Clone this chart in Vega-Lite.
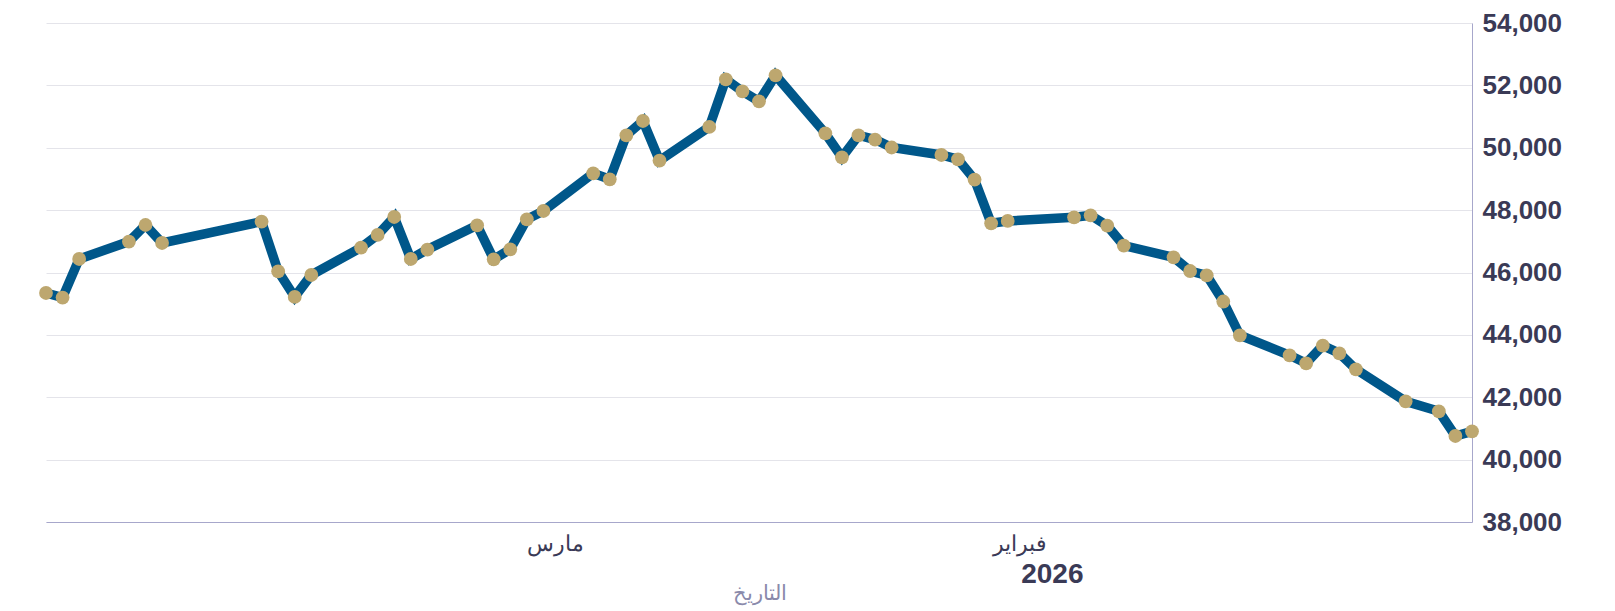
{
  "$schema": "https://vega.github.io/schema/vega-lite/v6.json",
  "width": 1426,
  "height": 499,
  "autosize": {"type": "none"},
  "padding": {"left": 46, "top": 23, "right": 143, "bottom": 89},
  "background": "white",
  "config": {
    "view": {"stroke": null},
    "font": "Liberation Sans"
  },
  "data": {
    "values": [
      {"date": "2026-01-04", "value": 40908},
      {"date": "2026-01-05", "value": 40758},
      {"date": "2026-01-06", "value": 41550},
      {"date": "2026-01-08", "value": 41870},
      {"date": "2026-01-11", "value": 42896},
      {"date": "2026-01-12", "value": 43409},
      {"date": "2026-01-13", "value": 43656},
      {"date": "2026-01-14", "value": 43089},
      {"date": "2026-01-15", "value": 43345},
      {"date": "2026-01-18", "value": 43987},
      {"date": "2026-01-19", "value": 45070},
      {"date": "2026-01-20", "value": 45910},
      {"date": "2026-01-21", "value": 46048},
      {"date": "2026-01-22", "value": 46488},
      {"date": "2026-01-25", "value": 46863},
      {"date": "2026-01-26", "value": 47504},
      {"date": "2026-01-27", "value": 47834},
      {"date": "2026-01-28", "value": 47770},
      {"date": "2026-02-01", "value": 47652},
      {"date": "2026-02-02", "value": 47578},
      {"date": "2026-02-03", "value": 48979},
      {"date": "2026-02-04", "value": 49630},
      {"date": "2026-02-05", "value": 49768},
      {"date": "2026-02-08", "value": 50008},
      {"date": "2026-02-09", "value": 50262},
      {"date": "2026-02-10", "value": 50400},
      {"date": "2026-02-11", "value": 49694},
      {"date": "2026-02-12", "value": 50464},
      {"date": "2026-02-15", "value": 52323},
      {"date": "2026-02-16", "value": 51490},
      {"date": "2026-02-17", "value": 51810},
      {"date": "2026-02-18", "value": 52195},
      {"date": "2026-02-19", "value": 50666},
      {"date": "2026-02-22", "value": 49588},
      {"date": "2026-02-23", "value": 50858},
      {"date": "2026-02-24", "value": 50400},
      {"date": "2026-02-25", "value": 48989},
      {"date": "2026-02-26", "value": 49181},
      {"date": "2026-03-01", "value": 47972},
      {"date": "2026-03-02", "value": 47706},
      {"date": "2026-03-03", "value": 46744},
      {"date": "2026-03-04", "value": 46423},
      {"date": "2026-03-05", "value": 47514},
      {"date": "2026-03-08", "value": 46735},
      {"date": "2026-03-09", "value": 46433},
      {"date": "2026-03-10", "value": 47780},
      {"date": "2026-03-11", "value": 47203},
      {"date": "2026-03-12", "value": 46799},
      {"date": "2026-03-15", "value": 45920},
      {"date": "2026-03-16", "value": 45215},
      {"date": "2026-03-17", "value": 46039},
      {"date": "2026-03-18", "value": 47632},
      {"date": "2026-03-24", "value": 46946},
      {"date": "2026-03-25", "value": 47523},
      {"date": "2026-03-26", "value": 46991},
      {"date": "2026-03-29", "value": 46433},
      {"date": "2026-03-30", "value": 45195},
      {"date": "2026-03-31", "value": 45343}
    ]
  },
  "encoding": {
    "y": {
      "field": "value",
      "type": "quantitative",
      "scale": {"domain": [38000, 54000], "nice": false, "zero": false},
      "axis": {
        "orient": "right",
        "title": null,
        "values": [38000, 40000, 42000, 44000, 46000, 48000, 50000, 52000, 54000],
        "format": ",.0f",
        "ticks": false,
        "domain": true,
        "domainColor": "#a7a7cb",
        "domainWidth": 1,
        "grid": true,
        "gridColor": "#e4e4ea",
        "gridWidth": 1,
        "labelPadding": 10,
        "labelFontSize": 26,
        "labelFontWeight": "bold",
        "labelColor": "#3a3a56",
        "labelFont": "Liberation Sans"
      }
    }
  },
  "layer": [
    {
      "mark": {"type": "line", "color": "#00578a", "strokeWidth": 9.5, "strokeJoin": "miter"},
      "encoding": {
        "x": {
          "field": "date",
          "type": "temporal",
          "scale": {"reverse": true},
          "axis": {
            "orient": "bottom",
            "title": "التاريخ",
            "tickCount": "month",
            "labelExpr": "month(datum.value) == 1 ? 'فبراير' : month(datum.value) == 2 ? 'مارس' : ''",
            "labelOffset": 12,
            "labelFlush": false,
            "labelOverlap": false,
            "ticks": false,
            "grid": false,
            "domainColor": "#a7a7cb",
            "domainWidth": 1,
            "labelFontSize": 22,
            "labelColor": "#3a3a56",
            "labelPadding": 11,
            "titleColor": "#8a8aab",
            "titleFontSize": 21,
            "titleFontWeight": "normal",
            "titlePadding": 28
          }
        }
      }
    },
    {
      "mark": {"type": "point", "filled": true, "color": "#bda76f", "opacity": 1, "size": 190},
      "encoding": {
        "x": {
          "field": "date",
          "type": "temporal",
          "axis": {
            "orient": "bottom",
            "title": null,
            "domain": false,
            "ticks": false,
            "grid": false,
            "tickCount": "month",
            "labelExpr": "month(datum.value) == 1 ? '2026' : ''",
            "labelAlign": "left",
            "labelOffset": 13,
            "labelFlush": false,
            "labelOverlap": false,
            "labelFontSize": 28,
            "labelFontWeight": "bold",
            "labelColor": "#3a3a56",
            "labelPadding": 38
          }
        }
      }
    }
  ],
  "resolve": {"axis": {"x": "independent"}}
}
